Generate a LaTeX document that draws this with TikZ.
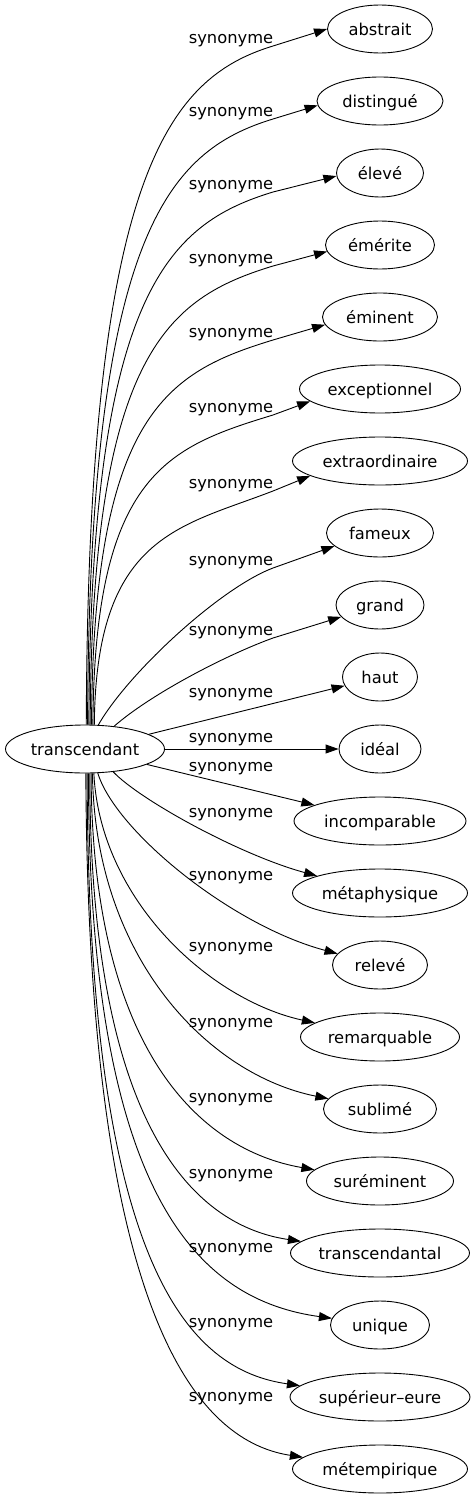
\documentclass[tikz,border=0pt]{standalone}
\usepackage{fontspec}
\setmainfont{DejaVu Sans}
\usetikzlibrary{shapes.geometric,arrows.meta}
\begin{document}
\begin{tikzpicture}[x=1pt,y=-1pt,
  every node/.style={font=\fontsize{16.3}{19}\selectfont},
  word/.style={draw, ellipse, line width=0.9pt, minimum height=48pt, inner sep=0pt, text height=12pt, text depth=0pt},
  lbl/.style={inner sep=0pt, anchor=base},
  link/.style={draw, line width=0.9pt, -{Triangle[length=13pt,width=9pt]}}]
\useasboundingbox (0,0) rectangle (475,1499);
% source
\node[word, minimum width=159pt] (src) at (85,749) {transcendant};
% targets
\node[word, minimum width=105pt] (t0) at (380,29) {abstrait};
\node[word, minimum width=126pt] (t1) at (380,101) {distingué};
\node[word, minimum width=87pt] (t2) at (380,173) {élevé};
\node[word, minimum width=109pt] (t3) at (380,245) {émérite};
\node[word, minimum width=115pt] (t4) at (380,317) {éminent};
\node[word, minimum width=161pt] (t5) at (380,389) {exceptionnel};
\node[word, minimum width=175pt] (t6) at (380,461) {extraordinaire};
\node[word, minimum width=107pt] (t7) at (380,533) {fameux};
\node[word, minimum width=88pt] (t8) at (380,605) {grand};
\node[word, minimum width=75pt] (t9) at (380,677) {haut};
\node[word, minimum width=82pt] (t10) at (380,749) {idéal};
\node[word, minimum width=172pt] (t11) at (380,821) {incomparable};
\node[word, minimum width=175pt] (t12) at (380,893) {métaphysique};
\node[word, minimum width=95pt] (t13) at (380,965) {relevé};
\node[word, minimum width=159pt] (t14) at (380,1037) {remarquable};
\node[word, minimum width=113pt] (t15) at (380,1109) {sublimé};
\node[word, minimum width=147pt] (t16) at (380,1181) {suréminent};
\node[word, minimum width=179pt] (t17) at (380,1253) {transcendantal};
\node[word, minimum width=99pt] (t18) at (380,1325) {unique};
\node[word, minimum width=180pt] (t19) at (380,1397) {supérieur–eure};
\node[word, minimum width=175pt] (t20) at (380,1469) {métempirique};
% labels
\node[lbl] (l0) at (231,43.5) {synonyme};
\node[lbl] (l1) at (231,116.5) {synonyme};
\node[lbl] (l2) at (231,189.5) {synonyme};
\node[lbl] (l3) at (231,263.5) {synonyme};
\node[lbl] (l4) at (231,337.5) {synonyme};
\node[lbl] (l5) at (231,412.5) {synonyme};
\node[lbl] (l6) at (231,488.5) {synonyme};
\node[lbl] (l7) at (231,565.5) {synonyme};
\node[lbl] (l8) at (231,635.5) {synonyme};
\node[lbl] (l9) at (231,697.5) {synonyme};
\node[lbl] (l10) at (231,742.5) {synonyme};
\node[lbl] (l11) at (231,771.5) {synonyme};
\node[lbl] (l12) at (231,817.5) {synonyme};
\node[lbl] (l13) at (231,880.5) {synonyme};
\node[lbl] (l14) at (231,951.5) {synonyme};
\node[lbl] (l15) at (231,1027.5) {synonyme};
\node[lbl] (l16) at (231,1102.5) {synonyme};
\node[lbl] (l17) at (231,1178.5) {synonyme};
\node[lbl] (l18) at (231,1252.5) {synonyme};
\node[lbl] (l19) at (231,1327.5) {synonyme};
\node[lbl] (l20) at (231,1401.5) {synonyme};
% waypoints
\coordinate (w0) at (273,46);
\coordinate (w1) at (273,119);
\coordinate (w2) at (273,192);
\coordinate (w3) at (273,266);
\coordinate (w4) at (273,340);
\coordinate (w5) at (273,415);
\coordinate (w6) at (273,491);
\coordinate (w7) at (273,568);
\coordinate (w8) at (273,638);
% upper edges
\draw[link] (src.87.6) .. controls (88,175) and (168,78) .. (w0) -- (t0.180);
\draw[link] (src.84.5) .. controls (89.3,234) and (168,151) .. (w1) -- (t1.184.6);
\draw[link] (src.81.5) .. controls (90.6,293) and (168,224) .. (w2) -- (t2.184);
\draw[link] (src.78.5) .. controls (91.9,353) and (168,298) .. (w3) -- (t3.187.6);
\draw[link] (src.75.5) .. controls (93.2,413) and (168,372) .. (w4) -- (t4.188.4);
\draw[link] (src.72.6) .. controls (94.5,474) and (168,447) .. (w5) -- (t5.190.9);
\draw[link] (src.69.9) .. controls (95.8,535) and (180,527) .. (w6) -- (t6.192.4);
\draw[link] (src.61.2) .. controls (128,673) and (220,588) .. (w7) -- (t7.196);
\draw[link] (src.38.7) .. controls (151,694) and (226,655) .. (w8) -- (t8.197.5);
\draw[link] (src.13.6) -- (t9);
\draw[link] (src.east) -- (t10);
% lower edges
\draw[link] (src.346.4) -- (t11);
\draw[link] (src.321.3) .. controls (140,800) and (240,855) .. (t12);
\draw[link] (src.298.8) .. controls (115,830) and (230,925) .. (t13);
\draw[link] (src.290.1) .. controls (100,900) and (210,1000) .. (t14);
\draw[link] (src.287.4) .. controls (95,960) and (210,1075) .. (t15);
\draw[link] (src.284.5) .. controls (92,1050) and (200,1150) .. (t16);
\draw[link] (src.281.5) .. controls (90,1120) and (190,1225) .. (t17);
\draw[link] (src.278.5) .. controls (89,1200) and (200,1300) .. (t18);
\draw[link] (src.275.5) .. controls (88,1270) and (190,1370) .. (t19);
\draw[link] (src.272.4) .. controls (88,1300) and (190,1440) .. (t20);
\end{tikzpicture}
\end{document}
